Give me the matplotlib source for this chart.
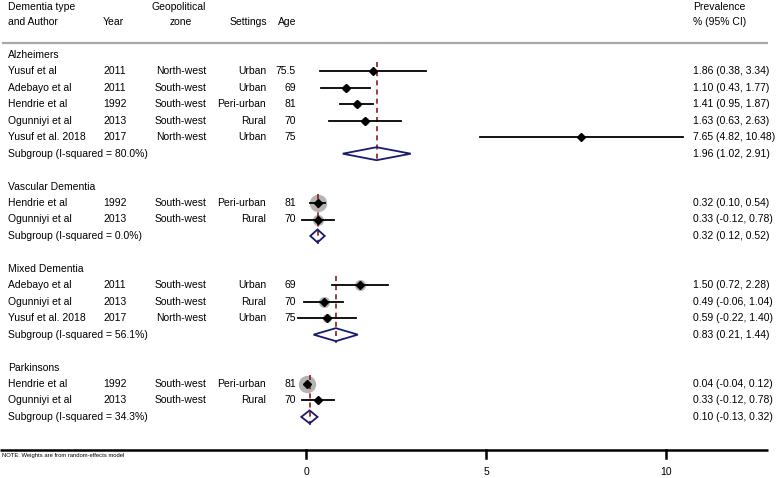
import matplotlib.pyplot as plt

plt.rcParams['font.family'] = ['Liberation Sans', 'DejaVu Sans']

# subgroups, study rows and pooled estimates
groups = ['Alzheimers', 'Vascular Dementia', 'Mixed Dementia', 'Parkinsons']
authors = [
    ['Yusuf et al', 'Adebayo et al', 'Hendrie et al', 'Ogunniyi et al', 'Yusuf et al. 2018'],
    ['Hendrie et al', 'Ogunniyi et al'],
    ['Adebayo et al', 'Ogunniyi et al', 'Yusuf et al. 2018'],
    ['Hendrie et al', 'Ogunniyi et al'],
]
years = [['2011', '2011', '1992', '2013', '2017'], ['1992', '2013'],
         ['2011', '2013', '2017'], ['1992', '2013']]
zones = [['North-west', 'South-west', 'South-west', 'South-west', 'North-west'],
         ['South-west', 'South-west'],
         ['South-west', 'South-west', 'North-west'],
         ['South-west', 'South-west']]
settings = [['Urban', 'Urban', 'Peri-urban', 'Rural', 'Urban'], ['Peri-urban', 'Rural'],
            ['Urban', 'Rural', 'Urban'], ['Peri-urban', 'Rural']]
ages = [['75.5', '69', '81', '70', '75'], ['81', '70'], ['69', '70', '75'], ['81', '70']]
est = [[1.86, 1.10, 1.41, 1.63, 7.65], [0.32, 0.33], [1.50, 0.49, 0.59], [0.04, 0.33]]
lo = [[0.38, 0.43, 0.95, 0.63, 4.82], [0.10, -0.12], [0.72, -0.06, -0.22], [-0.04, -0.12]]
hi = [[3.34, 1.77, 1.87, 2.63, 10.48], [0.54, 0.78], [2.28, 1.04, 1.40], [0.12, 0.78]]
weights = [[3, 5, 5, 5, 0], [11.5, 7], [7, 7, 5.5], [11.5, 4]]
sub_est = [1.96, 0.32, 0.83, 0.10]
sub_lo = [1.02, 0.12, 0.21, -0.13]
sub_hi = [2.91, 0.52, 1.44, 0.32]
isq = ['80.0%', '0.0%', '56.1%', '34.3%']
xticks = [0, 5, 10]

fig = plt.figure(figsize=(7.77, 4.78), dpi=100)
ax = fig.add_axes([0, 0, 1, 1])
ax.set_xlim(-306 / 36, 471 / 36)
ax.set_ylim(478, 0)
ax.axis('off')

fs = 7.5
def px(x):
    return (x - 306) / 36

ci_x = px(693)

# header
ax.text(px(8), 7, 'Dementia type', fontsize=fs, va='center')
ax.text(px(8), 22, 'and Author', fontsize=fs, va='center')
ax.text(px(103), 22, 'Year', fontsize=fs, va='center')
ax.text(px(179), 7, 'Geopolitical', fontsize=fs, va='center', ha='center')
ax.text(px(181), 22, 'zone', fontsize=fs, va='center', ha='center')
ax.text(px(267), 22, 'Settings', fontsize=fs, va='center', ha='right')
ax.text(px(296), 22, 'Age', fontsize=fs, va='center', ha='right')
ax.text(ci_x, 7, 'Prevalence', fontsize=fs, va='center')
ax.text(ci_x, 22, '% (95% CI)', fontsize=fs, va='center')
ax.plot([px(2), px(768)], [42.5, 42.5], color='#a8a8a8', lw=1.6, solid_capstyle='butt')

row = 0
step = 16.45
y0 = 55
for g in range(len(groups)):
    y = y0 + step * row
    ax.text(px(8), y, groups[g], fontsize=fs, va='center')
    first = y0 + step * (row + 1)
    for i in range(len(authors[g])):
        row += 1
        y = y0 + step * row
        ax.text(px(8), y, authors[g][i], fontsize=fs, va='center')
        ax.text(px(103), y, years[g][i], fontsize=fs, va='center')
        ax.text(px(181), y, zones[g][i], fontsize=fs, va='center', ha='center')
        ax.text(px(266), y, settings[g][i], fontsize=fs, va='center', ha='right')
        ax.text(px(296), y, ages[g][i], fontsize=fs, va='center', ha='right')
        if weights[g][i] > 0:
            ax.plot(est[g][i], y, 'o', color='#b4b4b4', ms=weights[g][i], zorder=1)
        ax.plot([lo[g][i], hi[g][i]], [y, y], color='black', lw=1.3, zorder=3)
        ax.plot(est[g][i], y, 'D', color='black', ms=4, zorder=4)
        ax.text(ci_x, y, '%.2f (%.2f, %.2f)' % (est[g][i], lo[g][i], hi[g][i]),
                fontsize=fs, va='center')
    row += 1
    y = y0 + step * row
    ax.text(px(8), y, 'Subgroup (I-squared = %s)' % isq[g], fontsize=fs, va='center')
    ax.fill([sub_lo[g], sub_est[g], sub_hi[g], sub_est[g]], [y, y - 6.5, y, y + 6.5],
            facecolor='none', edgecolor='#1a1a6e', lw=1.3, zorder=5)
    ax.plot([sub_est[g], sub_est[g]], [first - 9, y + 8], color='#8b1a1a', lw=1.2,
            ls=(0, (3, 2.5)), zorder=2)
    ax.text(ci_x, y, '%.2f (%.2f, %.2f)' % (sub_est[g], sub_lo[g], sub_hi[g]),
            fontsize=fs, va='center')
    row += 2

# x axis
ax.plot([px(0), px(768)], [450, 450], color='black', lw=1.8, solid_capstyle='butt')
for t in xticks:
    ax.plot([t, t], [450, 458], color='black', lw=1.8)
    ax.text(t, 472, str(t), fontsize=fs, ha='center', va='center')
ax.text(px(2), 456, 'NOTE: Weights are from random-effects model', fontsize=4.2, va='center')

fig.savefig('out.png', dpi=100)
